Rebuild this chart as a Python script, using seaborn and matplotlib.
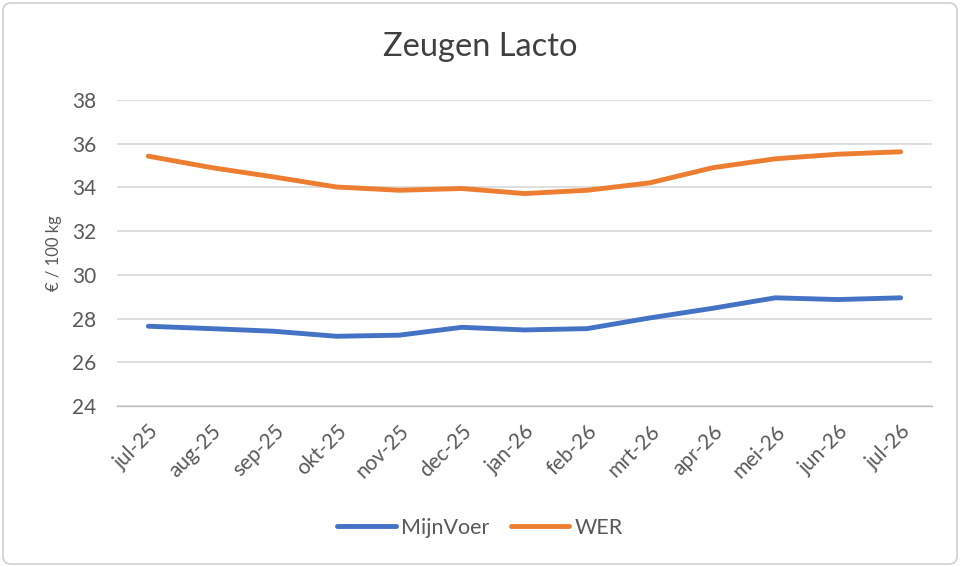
import pandas as pd
import matplotlib.pyplot as plt
import seaborn as sns
from matplotlib.patches import FancyBboxPatch

# data
maanden = ['jul-25', 'aug-25', 'sep-25', 'okt-25', 'nov-25', 'dec-25', 'jan-26',
           'feb-26', 'mrt-26', 'apr-26', 'mei-26', 'jun-26', 'jul-26']
mijnvoer = [27.65, 27.54, 27.42, 27.19, 27.24, 27.60, 27.48,
            27.54, 28.03, 28.47, 28.95, 28.87, 28.95]
wer = [35.43, 34.91, 34.48, 34.02, 33.87, 33.95, 33.72,
       33.87, 34.21, 34.90, 35.31, 35.52, 35.63]

df = pd.DataFrame({
    'idx': list(range(len(maanden))) * 2,
    'prijs': mijnvoer + wer,
    'reeks': ['MijnVoer'] * len(maanden) + ['WER'] * len(maanden),
})

sns.set_style('white')
plt.rcParams['font.family'] = ['Lato', 'DejaVu Sans']
grijs = '#595959'

fig = plt.figure(figsize=(9.6, 5.67), dpi=100)
ax = fig.add_axes([117 / 960, 1 - 406 / 567, (932 - 117) / 960, (406 - 100) / 567])

sns.lineplot(data=df, x='idx', y='prijs', hue='reeks',
             palette={'MijnVoer': '#4472C4', 'WER': '#ED7D31'},
             linewidth=3.5, ax=ax, solid_capstyle='round')

ax.set_xlim(-0.5, len(maanden) - 0.5)
ax.set_ylim(24, 38)
ax.set_yticks(range(24, 39, 2))
ax.yaxis.grid(True, color='#d9d9d9', linewidth=1.2)
ax.set_xticks(range(len(maanden)))
ax.set_xticklabels(maanden, rotation=45, ha='right', va='top', rotation_mode='anchor')
ax.set_xticks([i - 0.5 for i in range(len(maanden) + 1)], minor=True)
ax.tick_params(axis='x', which='major', length=0, pad=11, labelsize=15, labelcolor=grijs)
ax.tick_params(axis='x', which='minor', length=6, width=1, color='#bfbfbf', direction='out')
ax.tick_params(axis='y', length=0, pad=15, labelsize=15, labelcolor=grijs)

for s in ['top', 'right', 'left']:
    ax.spines[s].set_visible(False)
ax.spines['bottom'].set_color('#bfbfbf')
ax.spines['bottom'].set_linewidth(1)

ax.set_xlabel('')
ax.set_ylabel('€ / 100 kg', fontsize=12, color=grijs, labelpad=7)

fig.text(0.5, 1 - 47 / 567, 'Zeugen Lacto', ha='center', va='center',
         fontsize=23.5, color='#404040')

handles, labels = ax.get_legend_handles_labels()
ax.legend_.remove()
fig.legend(handles, labels, loc='center', bbox_to_anchor=(0.5, 1 - 528 / 567),
           ncol=2, frameon=False, fontsize=15.5, handlelength=2.7,
           handletextpad=0.25, columnspacing=1.0, labelcolor=grijs)

rand = FancyBboxPatch((3, 3), 954, 561, boxstyle='round,pad=0,rounding_size=8',
                      transform=None, facecolor='none', edgecolor='#d0d0d0',
                      linewidth=1.2)
fig.patches.append(rand)

fig.savefig('out.png', dpi=100)
